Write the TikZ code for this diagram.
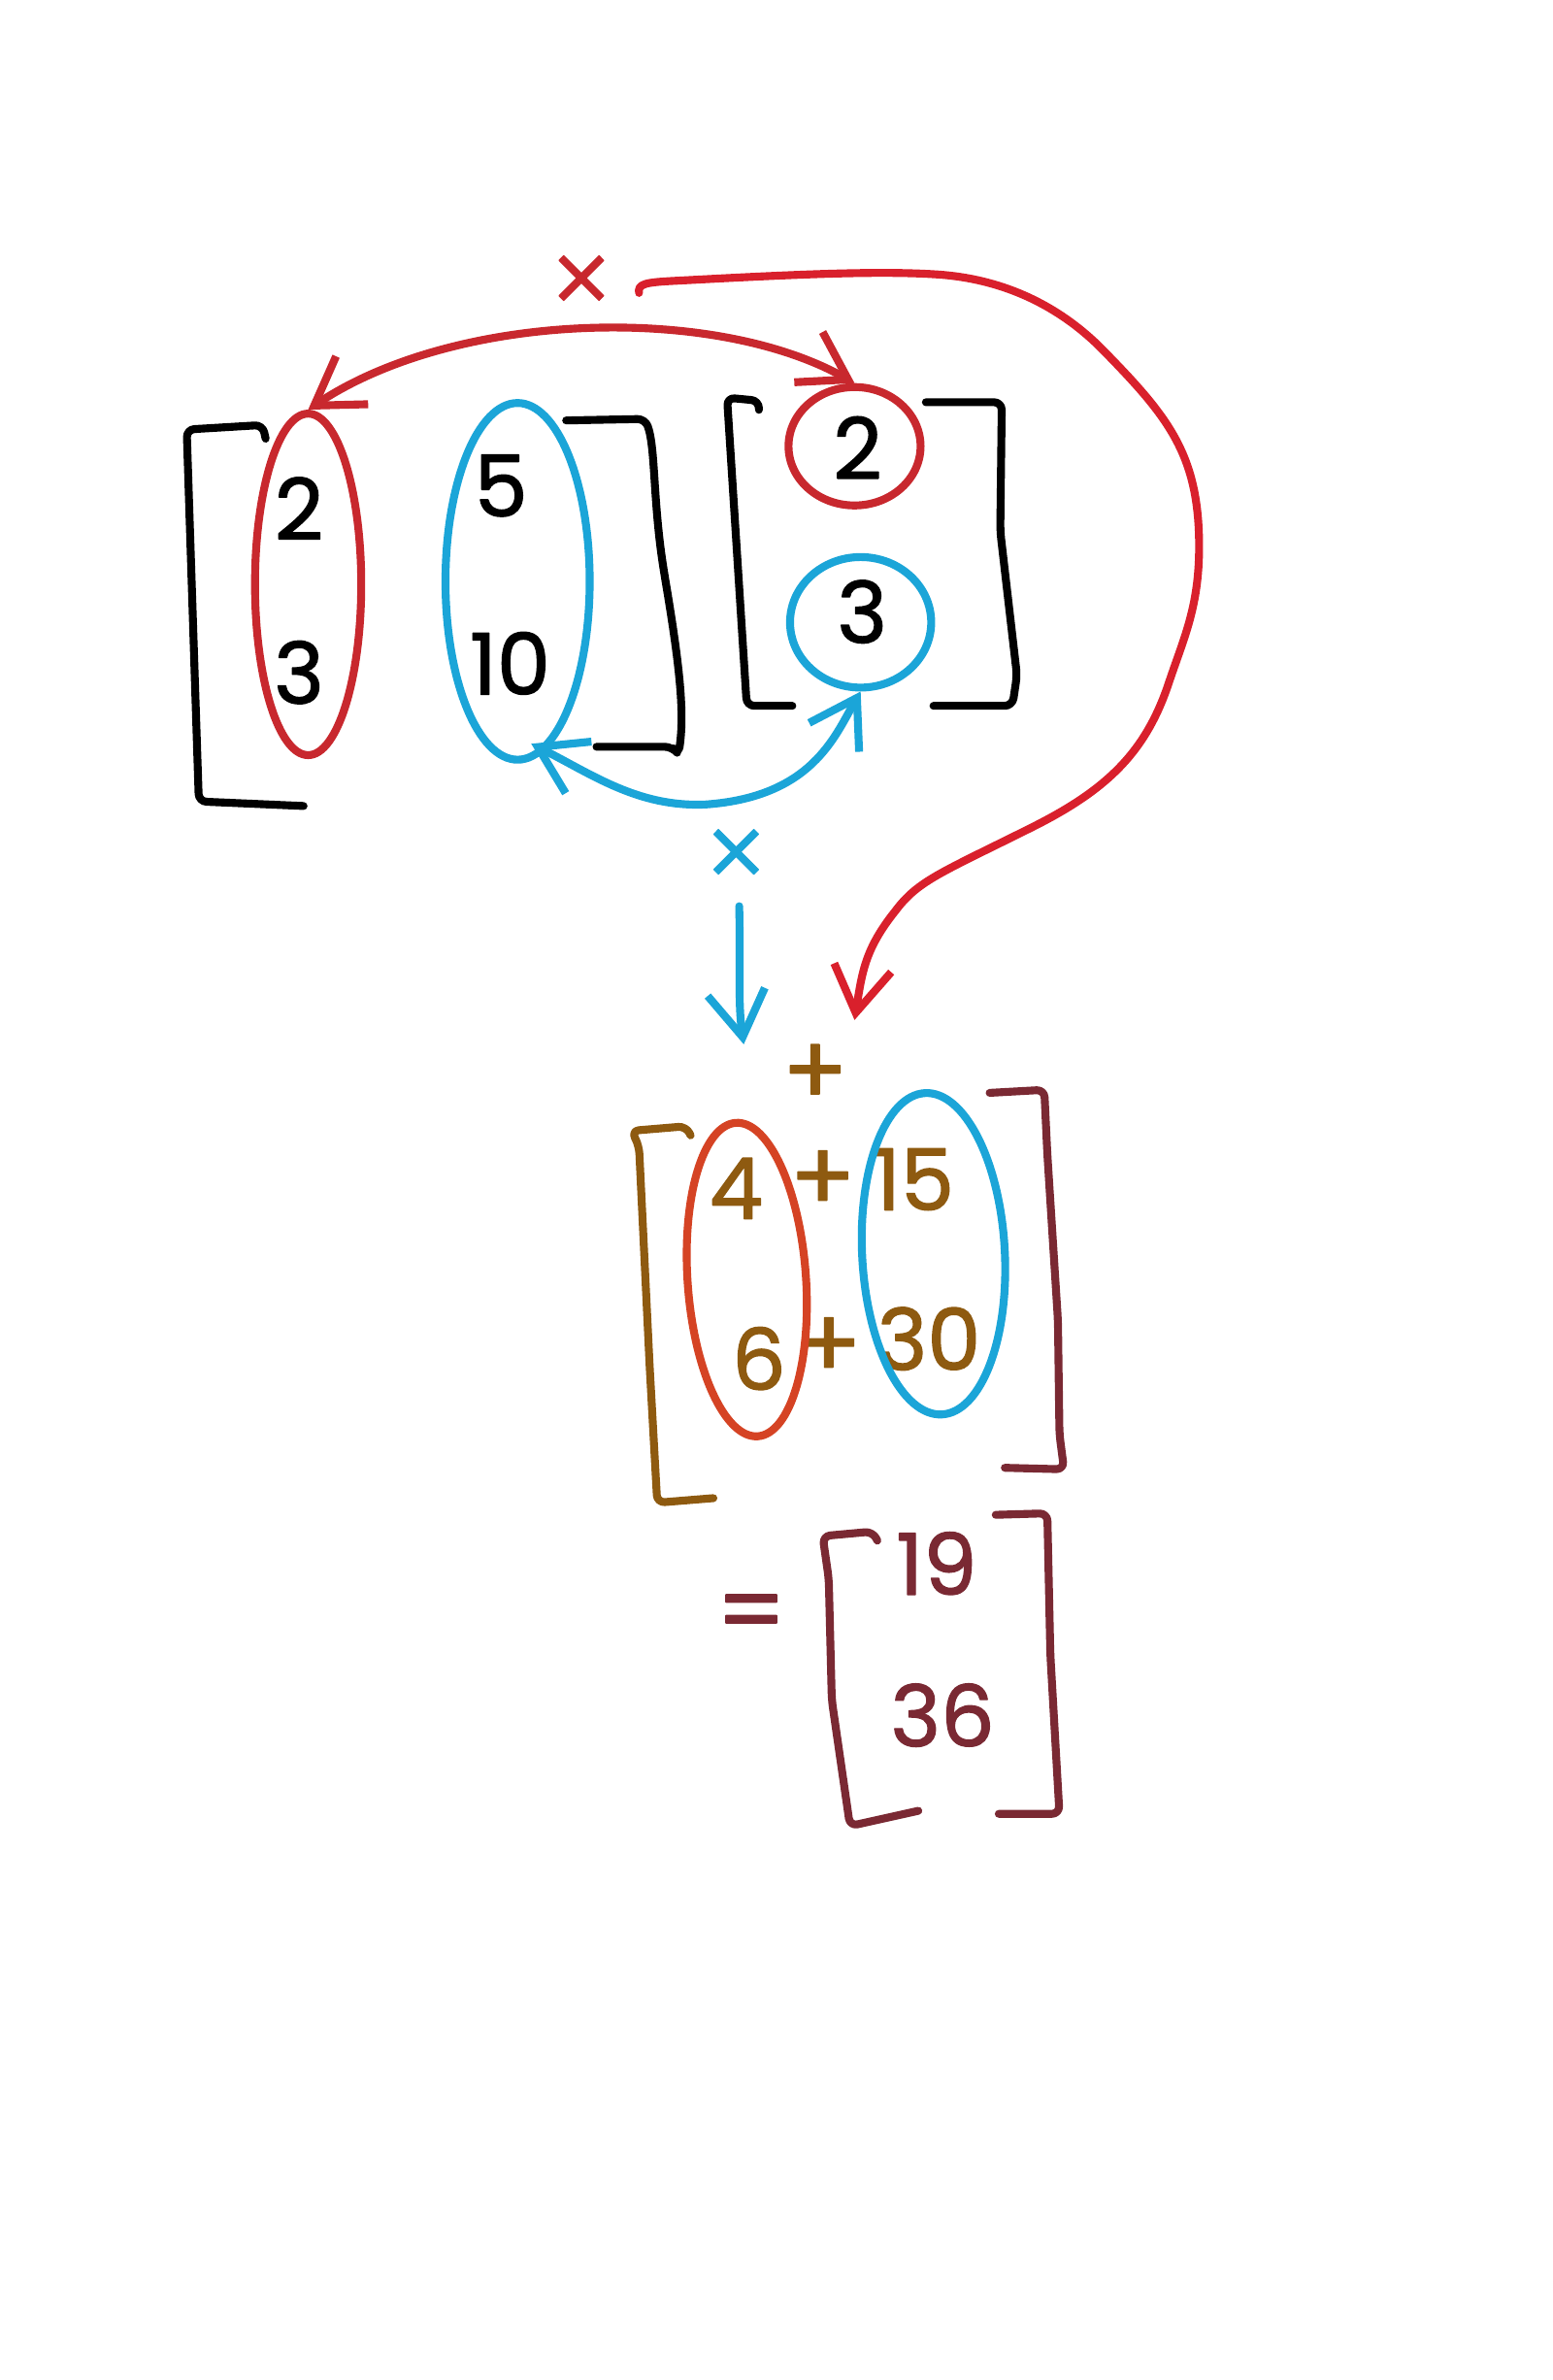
\documentclass[tikz,border=0pt]{standalone}
\usepackage{fontspec}
\setmainfont{Poppins}
\newfontfamily\numfont{Poppins}[FakeBold=1.5]
\newfontfamily\symfont{DejaVu Sans}[FakeBold=1.5]
\usetikzlibrary{arrows.meta,shapes.geometric}
\definecolor{inkred}{HTML}{C8282E}
\definecolor{brightred}{HTML}{D9202C}
\definecolor{inkblue}{HTML}{1BA5D8}
\definecolor{inkbrown}{HTML}{8E5A10}
\definecolor{inkorange}{HTML}{D54324}
\definecolor{inkmaroon}{HTML}{7A2933}
\tikzset{vbarb/.tip={Straight Barb[length=30pt,width=38pt]}}
\begin{document}
\begin{tikzpicture}[x=1pt,y=-1pt,line cap=round,line join=round,
  stroke/.style={line width=5.2pt},
  num/.style={font=\numfont\fontsize{56}{60}\selectfont,inner sep=0pt},
  op/.style={font=\numfont\fontsize{64}{70}\selectfont,inner sep=0pt},
  times/.style={font=\symfont\fontsize{52}{56}\selectfont,inner sep=0pt},
  loopshape/.style={ellipse,draw,line width=5.2pt,inner sep=0pt},
  bracket/.style={stroke,rounded corners=5pt}]
\useasboundingbox[fill=white] (0,0) rectangle (1023,1568);

% ---------- left matrix ----------
\node[num] (a11) at (197,335) {2};
\node[num] (a21) at (197,443) {3};
\node[num] (a12) at (330,320) {5};
\node[num] (a22) at (336,437) {10};
\draw[bracket] (175,289) -- (173,280) -- (123,283) -- (131,528) -- (200,531);
\draw[bracket] (373,277) -- (425,276) .. controls (432,295) and (430,330) .. (438,380)
  .. controls (448,440) and (451,470) .. (447,497) -- (443,492) -- (393,492);
\node[loopshape,draw=inkred,minimum width=70pt,minimum height=225pt] (c1) at (203,385) {};
\node[loopshape,draw=inkblue,minimum width=95pt,minimum height=235pt] (c2) at (341,383) {};

% ---------- right vector ----------
\node[num] (b1) at (565,295) {2};
\node[num] (b2) at (568,403) {3};
\draw[bracket] (500,270) -- (500,264) -- (479,262) -- (492,465) -- (522,465);
\draw[bracket] (610,265) -- (660,265) -- (659,350) -- (670,445) -- (667,465) -- (615,465);
\node[loopshape,draw=inkred,minimum width=87pt,minimum height=78pt] (rc) at (563,294) {};
\node[loopshape,draw=inkblue,minimum width=93pt,minimum height=86pt] (bc) at (567,410) {};

% ---------- red double arrow ----------
\draw[stroke,draw=inkred,vbarb-vbarb] (rc.north)
  .. controls (470,200) and (300,205) .. (c1.north);
\node[times,text=inkred] (xr) at (383,184) {×};

% ---------- big red arrow ----------
\coordinate (rs) at (421,193);
\coordinate (re) at (563,672);
\draw[stroke,draw=brightred,-vbarb] (rs) .. controls (420,187) and (425,186) .. (445,185)
  .. controls (520,181) and (580,178) .. (620,181)
  .. controls (670,185) and (705,208) .. (728,232)
  .. controls (770,275) and (790,300) .. (790,360)
  .. controls (790,400) and (780,420) .. (770,450)
  .. controls (755,495) and (730,520) .. (680,545)
  .. controls (620,575) and (605,580) .. (590,600)
  .. controls (570,625) and (568,640) .. (re);

% ---------- blue double arrow ----------
\coordinate (bl) at (350,490);
\draw[stroke,draw=inkblue,vbarb-vbarb] (bc.south)
  .. controls (550,485) and (535,525) .. (465,530)
  .. controls (420,532) and (390,510) .. (bl);
\node[times,text=inkblue] (xb) at (485,562) {×};

% ---------- blue down arrow ----------
\coordinate (ds) at (487,597);
\coordinate (de) at (490,688);
\draw[stroke,draw=inkblue,-vbarb] (ds) .. controls (488,640) and (486,660) .. (de);

% ---------- middle matrix ----------
\node[op,text=inkbrown] (ptop) at (537,708) {+};
\node[num,text=inkbrown] (m11) at (485,783) {4};
\node[op,text=inkbrown] (p1) at (542,778) {+};
\node[num,text=inkbrown] (m12) at (602,777) {15};
\node[num,text=inkbrown] (m21) at (500,895) {6};
\node[op,text=inkbrown] (p2) at (546,888) {+};
\node[num,text=inkbrown] (m22) at (612,882) {30};
\draw[bracket,draw=inkbrown] (455,748) -- (452,742) -- (416,745) -- (421,755) -- (428,900) -- (433,990) -- (470,987);
\draw[bracket,draw=inkmaroon] (652,720) -- (688,718) -- (690,760) -- (697,870) -- (698,945) -- (701,968) -- (662,967);
\node[loopshape,draw=inkorange,minimum width=78pt,minimum height=207pt,rotate=4] (mo) at (492,843) {};
\node[loopshape,draw=inkblue,minimum width=94pt,minimum height=212pt,rotate=3] (mb) at (615,826) {};

% ---------- result ----------
\node[op,text=inkmaroon] (eq) at (495,1067) {=};
\node[num,text=inkmaroon] (r1) at (617,1030) {19};
\node[num,text=inkmaroon] (r2) at (621,1130) {36};
\draw[bracket,draw=inkmaroon] (578,1015) -- (575,1009) -- (542,1012) -- (546,1040) -- (548,1120) -- (560,1203) -- (605,1193);
\draw[bracket,draw=inkmaroon] (656,998) -- (690,997) -- (692,1090) -- (698,1195) -- (658,1195);
\end{tikzpicture}
\end{document}
